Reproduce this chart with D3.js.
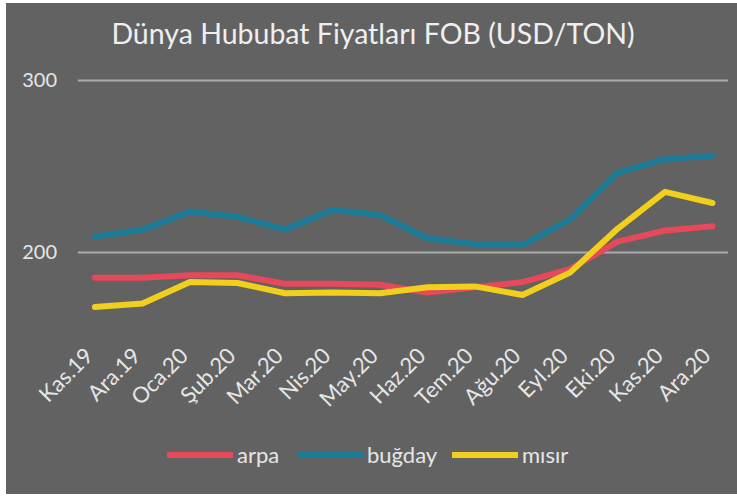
<!DOCTYPE html>
<meta charset="utf-8">
<style>
  body { margin: 0; background: #ffffff; }
  text { font-family: Lato, "Open Sans", sans-serif; }
</style>
<body>
<script src="https://d3js.org/d3.v7.min.js"></script>
<script>

// data
var months = ["Kas.19", "Ara.19", "Oca.20", "Şub.20", "Mar.20", "Nis.20", "May.20",
              "Haz.20", "Tem.20", "Ağu.20", "Eyl.20", "Eki.20", "Kas.20", "Ara.20"];
var arpa   = [185, 185, 186.5, 186.5, 181.5, 181.5, 181, 176.5, 179.5, 182.5, 190, 206, 212.5, 215];
var bugday = [209, 213, 223.5, 220.5, 213, 224.5, 221.5, 208, 204.5, 204, 219, 246, 254, 256];
var misir  = [168, 170, 182.5, 182, 176, 176.5, 176, 179.5, 180, 175, 188, 213.5, 235, 228.5];
var yTicks = [200, 300];

var series = [
  {name: "arpa",   values: arpa,   color: "#e6485c"},
  {name: "buğday", values: bugday, color: "#1c7c97"},
  {name: "mısır",  values: misir,  color: "#f0d01c"}
];

var W = 737, H = 497;

var svg = d3.select("body").append("svg")
    .attr("width", W)
    .attr("height", H);

// gray panel with the white frame round it
svg.append("rect")
    .attr("x", 6).attr("y", 3)
    .attr("width", W - 6).attr("height", H - 6)
    .attr("fill", "#626262");

// scales
var x = d3.scalePoint().domain(months).range([95, 712.5]);
var y = d3.scaleLinear().domain([150, 300]).range([338, 80]);

// title
svg.append("text")
    .attr("x", 373).attr("y", 44)
    .attr("text-anchor", "middle")
    .attr("fill", "#efefef")
    .style("font-size", "28.5px")
    .text("Dünya Hububat Fiyatları FOB (USD/TON)");

// gridlines + y labels
svg.append("g")
    .attr("transform", "translate(78,0)")
    .call(d3.axisLeft(y).tickValues(yTicks).tickSize(-650).tickPadding(21))
    .call(function(g) {
      g.select(".domain").remove();
      g.selectAll(".tick line").attr("stroke", "#ababab").attr("stroke-width", 2);
      g.selectAll(".tick text")
        .attr("fill", "#e6e6e6")
        .style("font-size", "20px")
        .style("font-family", "Lato, sans-serif");
    });

// x labels, rotated
svg.append("g")
    .attr("transform", "translate(0,338)")
    .call(d3.axisBottom(x).tickSize(0))
    .call(function(g) {
      g.select(".domain").remove();
      g.selectAll(".tick text")
        .attr("fill", "#e6e6e6")
        .style("font-size", "22px")
        .style("font-family", "Lato, sans-serif")
        .attr("text-anchor", "end")
        .attr("dy", 0)
        .attr("transform", "translate(-3,17) rotate(-45)");
    });

// lines
var line = d3.line()
    .x(function(d, i) { return x(months[i]); })
    .y(function(d) { return y(d); });

svg.selectAll(".series")
    .data(series)
  .enter().append("path")
    .attr("class", "series")
    .attr("d", function(d) { return line(d.values); })
    .attr("fill", "none")
    .attr("stroke", function(d) { return d.color; })
    .attr("stroke-width", 6)
    .attr("stroke-linejoin", "round")
    .attr("stroke-linecap", "round");

// legend
var legendX = [167, 297, 452];
var leg = svg.selectAll(".leg")
    .data(series)
  .enter().append("g")
    .attr("class", "leg")
    .attr("transform", function(d, i) { return "translate(" + legendX[i] + ",455)"; });

leg.append("line")
    .attr("x1", 0).attr("x2", 66)
    .attr("stroke", function(d) { return d.color; })
    .attr("stroke-width", 6);

leg.append("text")
    .attr("x", 70).attr("y", 8)
    .attr("fill", "#e6e6e6")
    .style("font-size", "22px")
    .text(function(d) { return d.name; });

</script>
</body>
